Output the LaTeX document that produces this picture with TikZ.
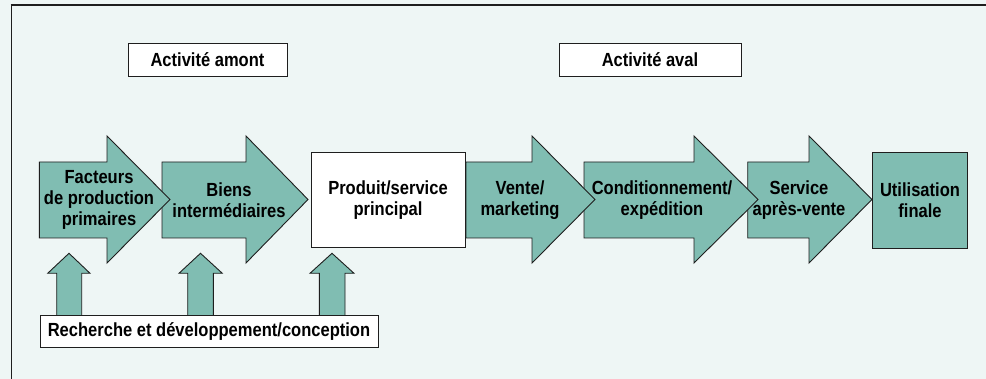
\documentclass[tikz,border=0pt]{standalone}
\usepackage{fontspec}
\newfontfamily\condfont[FakeStretch=0.87]{Liberation Sans}
\definecolor{bgc}{HTML}{EEF6F5}
\definecolor{teal}{HTML}{80BDB2}
\definecolor{edge}{HTML}{1E1E1E}
\tikzset{
  arrowshape/.style={fill=teal,draw=edge,line width=0.9pt,line join=miter},
  whitebox/.style={fill=white,draw=edge,line width=0.9pt},
  lbl/.style={font=\condfont\bfseries\fontsize{19}{21}\selectfont,align=center,text=black,inner sep=0pt},
}
% right arrow: left x, head base x, tip x
\newcommand\RArrow[3]{%
  \draw[arrowshape] (#1,162) -- (#2,162) -- (#2,136) -- (#3,199.5) -- (#2,263) -- (#2,238) -- (#1,238) -- cycle;}
% up arrow: shaft left, shaft right, head left, head right, tip x
\newcommand\UArrow[5]{%
  \draw[arrowshape] (#1,316) -- (#1,273.3) -- (#3,273.3) -- (#5,253.3) -- (#4,273.3) -- (#2,273.3) -- (#2,316) -- cycle;}
\begin{document}
\begin{tikzpicture}[x=1pt,y=-1pt]
\useasboundingbox (0,0) rectangle (986,379);
\fill[bgc] (0,0) rectangle (986,379);
% frame
\draw[edge,line width=2pt] (10.5,5.5) -- (990,5.5);
\draw[edge,line width=1.5pt] (11.5,5) -- (11.5,385);
% header boxes
\draw[whitebox] (128,43.5) rectangle (287,76);
\node[lbl] (amont) at (207.5,60) {Activité amont};
\draw[whitebox] (559,43.5) rectangle (741,76);
\node[lbl] (aval) at (650,60) {Activité aval};
% main chain (drawn right to left so tips overlap next bodies)
\draw[arrowshape] (872,152) rectangle (967.7,248.3);
\RArrow{747.7}{809}{872}
\RArrow{584}{694}{758}
\RArrow{466}{532}{595}
\draw[whitebox] (311,152) rectangle (465.7,247.7);
\RArrow{162}{246}{308}
\RArrow{39.3}{107}{170}
\node[lbl] (facteurs) at (99,200) {Facteurs\\de production\\primaires};
\node[lbl] (biens) at (229,200) {Biens\\intermédiaires};
\node[lbl] (produit) at (388,200) {Produit/service\\principal};
\node[lbl] (vente) at (520,200) {Vente/\\marketing};
\node[lbl] (cond) at (662,200) {Conditionnement/\\expédition};
\node[lbl] (sav) at (799,200) {Service\\après-vente};
\node[lbl] (util) at (920,200) {Utilisation\\finale};
% up arrows
\UArrow{56.7}{81.7}{47.7}{90}{69}
\UArrow{187.7}{213.3}{179}{222.3}{200.5}
\UArrow{319.3}{345}{310}{354}{332}
% R&D box
\draw[whitebox] (40,315.7) rectangle (378.3,347.7);
\node[lbl] (rd) at (209,332) {Recherche et développement/conception};
\end{tikzpicture}
\end{document}
